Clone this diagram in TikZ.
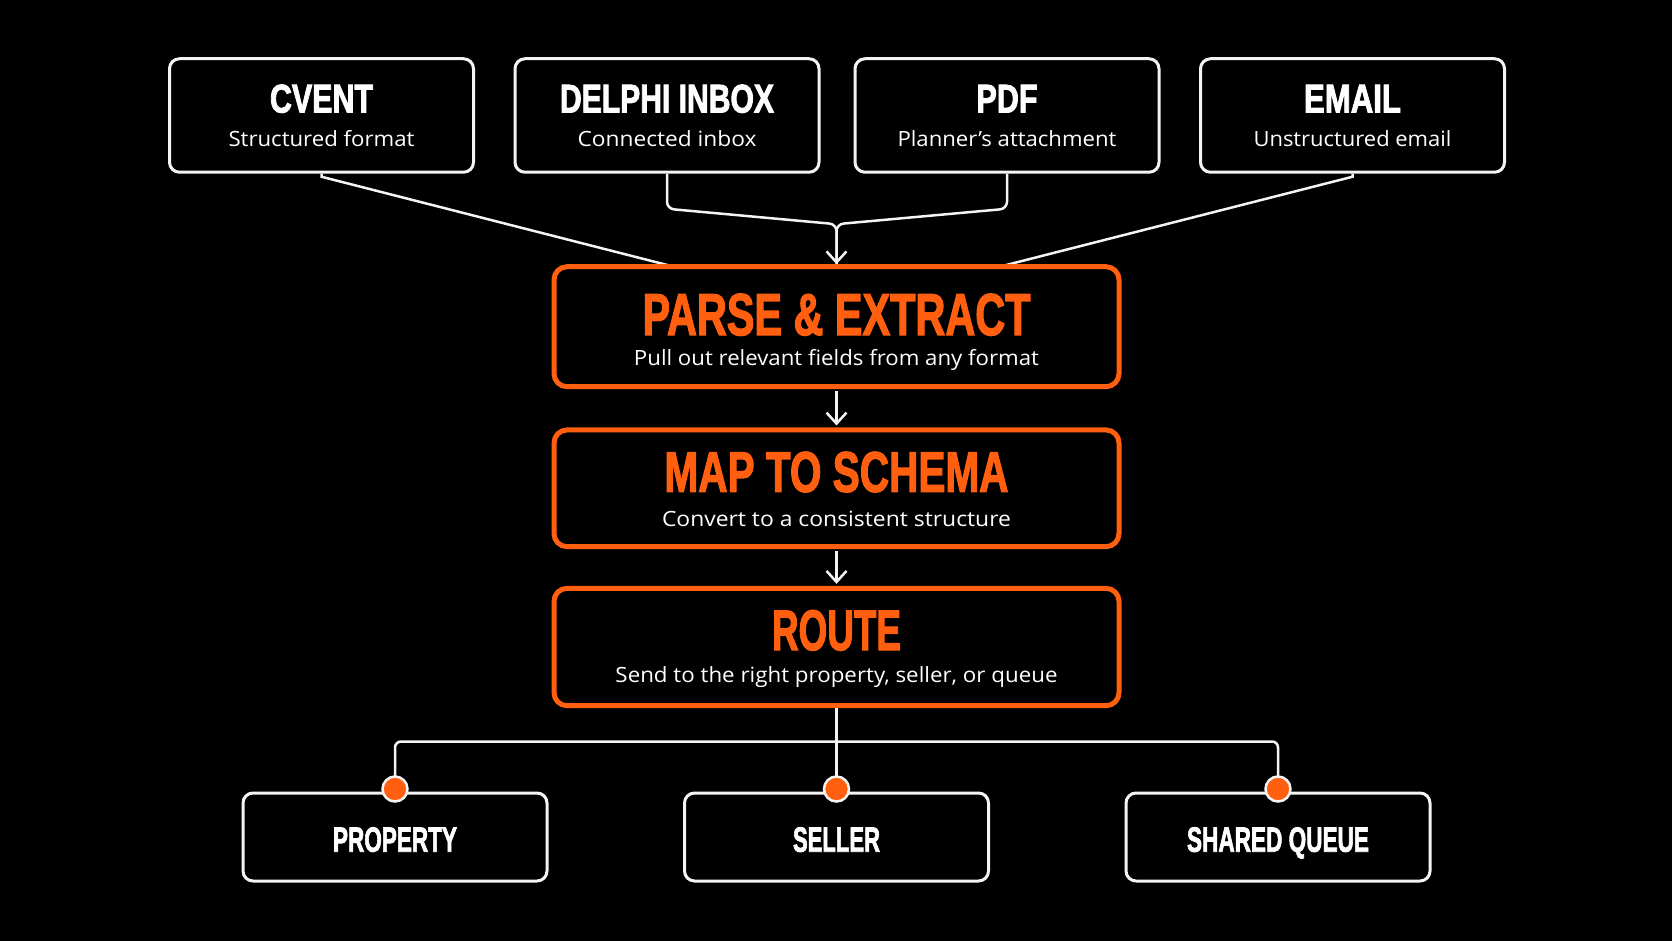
\documentclass[tikz,border=0pt]{standalone}
\usepackage{fontspec}
\setmainfont{Open Sans}
\newfontfamily\headfont{Liberation Sans}[FakeBold=2.5]
\usetikzlibrary{arrows.meta,calc}
\definecolor{brand}{HTML}{FF5F0F}
\definecolor{wline}{HTML}{F4F4F4}
\newcommand\fitw[2]{\resizebox{#1}{\height}{#2}}
\pgfdeclarelayer{bg}
\pgfdeclarelayer{lines}
\pgfsetlayers{bg,lines,main}
\begin{document}
\begin{tikzpicture}[x=1pt,y=-1pt,
  srcbox/.style={draw=wline, line width=3pt, rounded corners=10pt, fill=black, minimum width=304pt, minimum height=113.5pt, inner sep=0pt},
  stagebox/.style={draw=brand, line width=5pt, rounded corners=13pt, fill=black, minimum width=565pt, inner sep=0pt},
  dstbox/.style={draw=wline, line width=3pt, rounded corners=10pt, fill=black, minimum width=304pt, minimum height=88pt, inner sep=0pt},
  srctitle/.style={anchor=base, text=white, inner sep=0pt, font=\headfont\bfseries\fontsize{40}{40}\selectfont},
  stagetitle/.style={anchor=base, text=brand, inner sep=0pt, font=\headfont\bfseries\fontsize{57}{57}\selectfont},
  dsttitle/.style={anchor=base, text=white, inner sep=0pt, font=\headfont\bfseries\fontsize{35}{35}\selectfont},
  subtext/.style={anchor=base, text=white, inner sep=0pt, font=\fontsize{21}{22}\selectfont},
  conn/.style={draw=wline, line width=2.5pt},
  arrowed/.style={-{Straight Barb[length=11pt,width=20pt]}},
  dot/.style={circle, fill=brand, draw=wline, line width=2.5pt, minimum size=25pt, inner sep=0pt}
]
\useasboundingbox (0,0) rectangle (1672,941);
\begin{pgfonlayer}{bg}
\fill[black] (0,0) rectangle (1672,941);
\end{pgfonlayer}

% source boxes
\node[srcbox] (cvent)  at (321.5,115.5) {};
\node[srcbox] (delphi) at (667,115.5) {};
\node[srcbox] (pdf)    at (1007,115.5) {};
\node[srcbox] (email)  at (1352.5,115.5) {};

\node[srctitle] (tcvent)  at (321.5,112.5) {\fitw{103pt}{CVENT}};
\node[srctitle] (tdelphi) at (667,112.5) {\fitw{214pt}{DELPHI INBOX}};
\node[srctitle] (tpdf)    at (1007,112.5) {\fitw{61pt}{PDF}};
\node[srctitle] (temail)  at (1352.5,112.5) {\fitw{97pt}{EMAIL}};

\node[subtext] (scvent)  at (321.5,146.5) {\fitw{186pt}{Structured format}};
\node[subtext] (sdelphi) at (667,146.5) {\fitw{179pt}{Connected inbox}};
\node[subtext] (spdf)    at (1007,146.5) {\fitw{219pt}{Planner’s attachment}};
\node[subtext] (semail)  at (1352.5,146.5) {\fitw{198pt}{Unstructured email}};

% stage boxes
\node[stagebox, minimum height=120pt] (parse) at (836.5,326.7) {};
\node[stagebox, minimum height=116.7pt] (map)   at (836.5,488.3) {};
\node[stagebox, minimum height=117.4pt] (route) at (836.5,647) {};

\node[stagetitle, font=\headfont\bfseries\fontsize{59}{59}\selectfont] (tparse) at (836.5,335) {\fitw{388pt}{PARSE \& EXTRACT}};
\node[stagetitle] (tmap)   at (836.5,491.7) {\fitw{344pt}{MAP TO SCHEMA}};
\node[stagetitle] (troute) at (836.5,650) {\fitw{129pt}{ROUTE}};

\node[subtext] (sparse) at (836.5,365.5) {\fitw{405pt}{Pull out relevant fields from any format}};
\node[subtext] (smap)   at (836.5,526) {\fitw{349pt}{Convert to a consistent structure}};
\node[subtext] (sroute) at (836.5,682.7) {\fitw{442pt}{Send to the right property, seller, or queue}};

% destination boxes
\node[dstbox] (prop)   at (395,837) {};
\node[dstbox] (seller) at (836.5,837) {};
\node[dstbox] (queue)  at (1278,837) {};

\node[dsttitle] (tprop)   at (395,851.7) {\fitw{124pt}{PROPERTY}};
\node[dsttitle] (tseller) at (836.5,851.7) {\fitw{87pt}{SELLER}};
\node[dsttitle] (tqueue)  at (1278,851.7) {\fitw{182pt}{SHARED QUEUE}};

\node[dot] (dprop)   at (395,789) {};
\node[dot] (dseller) at (836.5,789) {};
\node[dot] (dqueue)  at (1278,789) {};

% connectors
\begin{pgfonlayer}{lines}
\coordinate (pl) at ($(parse.north)+(-168.5,1)$);
\coordinate (pr) at ($(parse.north)+(169,1)$);
\coordinate (mj) at ($(parse.north)+(0,-40)$);
\draw[conn] (cvent.south) -- ++(0,3) -- (pl);
\draw[conn] (email.south) -- ++(0,3) -- (pr);
\draw[conn, rounded corners=7pt] (pdf.south) -- ++(0,35) -- (mj) -- (parse.north);
\draw[conn, rounded corners=7pt, arrowed] (delphi.south) -- ++(0,35) -- (mj) -- (parse.north);
\draw[conn, arrowed, shorten <=2pt, shorten >=2pt] (parse.south) -- (map.north);
\draw[conn, arrowed, shorten <=2pt, shorten >=2pt] (map.south) -- (route.north);
\draw[conn] (route.south) -- (dseller.center);
\draw[conn, rounded corners=6pt] (dprop.center) -- ++(0,-47.5) -| (dqueue.center);
\end{pgfonlayer}
\end{tikzpicture}
\end{document}
